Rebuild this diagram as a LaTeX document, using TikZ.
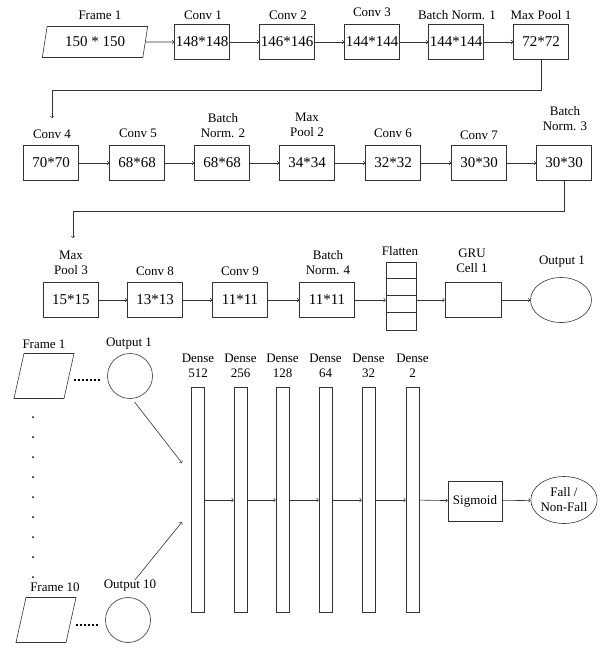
\documentclass[tikz,border=0pt]{standalone}
\usepackage{fontspec}
\setmainfont{Liberation Serif}
\usetikzlibrary{arrows, shapes.geometric, positioning}

\tikzset{
	layer/.style={draw=black!80, line width=0.6pt, minimum width=55pt, minimum height=35pt, inner sep=0pt, font=\fontsize{15}{17}\selectfont},
	caption/.style={font=\fontsize{13}{15}\selectfont, align=center, inner sep=0pt},
	frame/.style={trapezium, draw=black!80, line width=0.6pt, trapezium left angle=77, trapezium right angle=103, trapezium stretches=true, inner sep=2pt, font=\fontsize{15}{17}\selectfont},
	dense/.style={draw=black!80, line width=0.6pt, minimum width=13pt, minimum height=225pt, inner sep=0pt},
	flow/.style={->, draw=black!80, line width=0.6pt},
	dots/.style={draw=black, line width=1.5pt, dash pattern=on 1.5pt off 2.5pt},
}

\begin{document}
\begin{tikzpicture}[x=1pt, y=-1pt]
	\useasboundingbox (0,0) rectangle (616,654);

	% first row
	\node[frame, minimum width=106pt, minimum height=31pt] (frame1) at (95,42) {150 * 150};
	\node[layer] (conv1) at (202,42) {148*148};
	\node[layer] (conv2) at (287,42) {146*146};
	\node[layer] (conv3) at (372,42) {144*144};
	\node[layer] (bn1)   at (456,42) {144*144};
	\node[layer] (pool1) at (541,42) {72*72};
	\node[caption] (frame1cap) at (100,15) {Frame 1};
	\node[caption] (conv1cap)  at (203,15) {Conv 1};
	\node[caption] (conv2cap)  at (288,15) {Conv 2};
	\node[caption] (conv3cap)  at (372,12) {Conv 3};
	\node[caption] (bn1cap)    at (457,15) {Batch Norm. 1};
	\node[caption] (pool1cap)  at (541,15) {Max Pool 1};
	\draw[flow] (frame1) -- (conv1);
	\draw[flow] (conv1) -- (conv2);
	\draw[flow] (conv2) -- (conv3);
	\draw[flow] (conv3) -- (bn1);
	\draw[flow] (bn1) -- (pool1);

	% second row
	\node[layer] (conv4) at (51,163)  {70*70};
	\node[layer] (conv5) at (137,163) {68*68};
	\node[layer] (bn2)   at (222,163) {68*68};
	\node[layer] (pool2) at (307,163) {34*34};
	\node[layer] (conv6) at (393,163) {32*32};
	\node[layer] (conv7) at (479,163) {30*30};
	\node[layer] (bn3)   at (564,163) {30*30};
	\node[caption] (conv4cap) at (52,134)  {Conv 4};
	\node[caption] (conv5cap) at (138,133) {Conv 5};
	\node[caption] (bn2cap)   at (223,126) {Batch\\Norm. 2};
	\node[caption] (pool2cap) at (307,125) {Max\\Pool 2};
	\node[caption] (conv6cap) at (393,133) {Conv 6};
	\node[caption] (conv7cap) at (479,135) {Conv 7};
	\node[caption] (bn3cap)   at (565,119) {Batch\\Norm. 3};
	\coordinate (in2) at (52,118);
	\draw[flow] (pool1.south) -- ++(0,30) -| (in2);
	\draw[flow] (conv4) -- (conv5);
	\draw[flow] (conv5) -- (bn2);
	\draw[flow] (bn2) -- (pool2);
	\draw[flow] (pool2) -- (conv6);
	\draw[flow] (conv6) -- (conv7);
	\draw[flow] (conv7) -- (bn3);

	% third row
	\node[layer] (pool3) at (71,300)  {15*15};
	\node[layer] (conv8) at (155,300) {13*13};
	\node[layer] (conv9) at (240,300) {11*11};
	\node[layer] (bn4)   at (327,300) {11*11};
	\node[draw=black!80, line width=0.6pt, minimum width=30pt, minimum height=68pt, inner sep=0pt] (flat) at (401,296) {};
	\foreach \k in {1,2,3}
		\draw[draw=black!80, line width=0.6pt] (flat.north west) ++(0,17*\k) -- ++(30,0);
	\node[layer, minimum width=56pt] (gru) at (473,300) {};
	\node[ellipse, draw=black!80, line width=0.6pt, minimum width=61pt, minimum height=45pt, inner sep=0pt] (out1) at (561,300) {};
	\node[caption] (pool3cap) at (71,263)  {Max\\Pool 3};
	\node[caption] (conv8cap) at (155,271) {Conv 8};
	\node[caption] (conv9cap) at (240,271) {Conv 9};
	\node[caption] (bn4cap)   at (328,263) {Batch\\Norm. 4};
	\node[caption] (flatcap)  at (400,251) {Flatten};
	\node[caption] (grucap)   at (472,261) {GRU\\Cell 1};
	\node[caption] (out1cap)  at (562,262) {Output 1};
	\coordinate (in3) at (73,238);
	\draw[flow] (bn3.south) -- ++(0,30) -| (in3);
	\draw[flow] (pool3) -- (conv8);
	\draw[flow] (conv8) -- (conv9);
	\draw[flow] (conv9) -- (bn4);
	\draw[flow] (bn4) -- (bn4 -| flat.west);
	\draw[flow] (flat.east |- gru) -- (gru);
	\draw[flow] (gru) -- (out1);

	% frames into the dense layers
	\node[frame, trapezium left angle=76, trapezium right angle=104, minimum width=60pt, minimum height=45pt] (frameA) at (44,376) {};
	\node[frame, trapezium left angle=76, trapezium right angle=104, minimum width=60pt, minimum height=45pt] (frameB) at (46,620) {};
	\node[circle, draw=black!80, line width=0.6pt, minimum size=45pt, inner sep=0pt] (outA) at (130,376) {};
	\node[circle, draw=black!80, line width=0.6pt, minimum size=45pt, inner sep=0pt] (outB) at (128,620) {};
	\node[caption] (frameAcap) at (44,344)  {Frame 1};
	\node[caption] (outAcap)   at (129,344) {Output 1};
	\node[caption] (frameBcap) at (55,587)  {Frame 10};
	\node[caption] (outBcap)   at (130,586) {Output 10};
	\draw[dots, shorten <=5pt, shorten >=6pt] ([yshift=-4pt]frameA.east) -- ([yshift=-4pt]outA.west);
	\draw[dots, shorten <=5pt, shorten >=6pt] ([yshift=-5pt]frameB.east) -- ([yshift=-5pt]outB.west);
	\foreach \k in {0,...,8}
		\fill (33,417+20*\k) circle (1pt);

	\foreach \n/\x in {512/198, 256/240.5, 128/282.5, 64/325.5, 32/368.5, 2/412.5} {
		\node[dense] (d\n) at (\x,500) {};
		\node[caption] (d\n cap) at (\x,366) {Dense\\\n};
	}
	\coordinate (inA) at (182,463);
	\coordinate (inB) at (182,522);
	\draw[flow, shorten <=4pt] (outA.-85) -- (inA);
	\draw[flow] (outBcap) -- (inB);
	\foreach \a/\b in {512/256, 256/128, 128/64, 64/32, 32/2}
		\draw[flow] (d\a) -- (d\b);

	\node[layer, font=\fontsize{13}{15}\selectfont, minimum width=54pt, minimum height=40pt] (sig) at (475,501) {Sigmoid};
	\node[ellipse, draw=black!80, line width=0.6pt, minimum width=65pt, minimum height=47pt, inner sep=0pt, align=center, font=\fontsize{13}{15}\selectfont] (fall) at (564,500) {Fall /\\Non-Fall};
	\draw[flow] (d2) -- (sig);
	\draw[flow] (sig) -- (fall);
\end{tikzpicture}
\end{document}
